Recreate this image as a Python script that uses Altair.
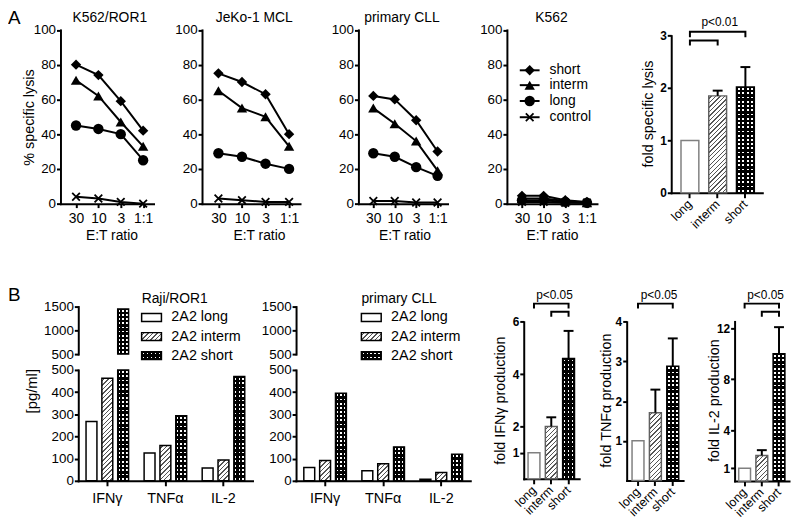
import math
import altair as alt
import pandas as pd

# ============================== data ==============================
et_ratios = ["30", "10", "3", "1:1"]
lysis_series = ["short", "interm", "long", "control"]

k562ror1_short = [80, 74, 59, 42]
k562ror1_interm = [71, 62, 47, 33]
k562ror1_long = [45, 43, 40, 25]
k562ror1_control = [4, 3, 1, 0]

jeko_short = [75, 70, 63, 40]
jeko_interm = [65, 55, 50, 33]
jeko_long = [29, 27, 23, 20]
jeko_control = [3, 2, 1, 1]

cll_short = [62, 60, 48, 30]
cll_interm = [55, 46, 36, 19]
cll_long = [29, 27, 21, 16]
cll_control = [1.5, 1.5, 0.7, 0.7]

k562_short = [4.5, 4.5, 2, 1]
k562_interm = [3, 3, 1.5, 0.5]
k562_long = [2, 2, 1, 0.5]
k562_control = [1, 1, 0.5, 0.5]

constructs = ["long", "interm", "short"]
lysis_fold = [1.0, 1.85, 2.02]
lysis_fold_sd = [0.0, 0.10, 0.38]

cytokines = ["IFNγ", "TNFα", "IL-2"]
variants = ["2A2 long", "2A2 interm", "2A2 short"]
raji_long = [268, 125, 58]
raji_interm = [463, 159, 94]
raji_short = [1450, 294, 470]
pcll_long = [60, 45, 7]
pcll_interm = [92, 77, 37]
pcll_short = [395, 153, 120]

ifng_fold = [1.0, 2.0, 4.6]
ifng_sd = [0.0, 0.35, 1.05]
tnf_fold = [1.0, 1.71, 2.88]
tnf_sd = [0.0, 0.58, 0.70]
il2_fold = [1.0, 2.0, 10.0]
il2_sd = [0.0, 0.42, 2.1]

# ============================== helpers ==============================
OFF = 8
W, H = 792, 517
FONT = "Liberation Sans"
CLEAR = "rgba(0,0,0,0)"
ONE = pd.DataFrame({"k": [0]})
XPATH = "M-1,-1L1,1M-1,1L1,-1"
FOLD_STROKE = {"long": "#808080", "interm": "#606060", "short": "black"}


def P(v):
    return round(v - OFF, 2)


def r4(v):
    return round(min(max(v, 0.0), 1.0), 4)


def hatch(w, h, period=3.2, lw=1.0, color="#555555"):
    a = w / h
    s = (a + 1) / (a * a + 1)
    L = (w + h) / math.sqrt(2)
    stops = [{"offset": 0, "color": "white"}]
    t = period / 2
    while t < L:
        o1, o2 = r4(t / L), r4((t + lw) / L)
        stops += [{"offset": o1, "color": "white"}, {"offset": o1, "color": color},
                  {"offset": o2, "color": color}, {"offset": o2, "color": "white"}]
        t += period
    stops.append({"offset": 1, "color": "white"})
    return {"gradient": "linear", "x1": 0, "y1": 0, "x2": round(s * a, 4), "y2": round(s, 4), "stops": stops}


def stripes(length, across, period=4.3, white=0.42):
    n = max(1, round(length / period))
    stops = []
    for k in range(n):
        a = k / n
        b = (k + (1 - white) / 2) / n
        c = (k + (1 + white) / 2) / n
        d = (k + 1) / n
        stops += [{"offset": r4(a), "color": "black"}, {"offset": r4(b), "color": "black"},
                  {"offset": r4(b), "color": CLEAR}, {"offset": r4(c), "color": CLEAR},
                  {"offset": r4(c), "color": "black"}, {"offset": r4(d), "color": "black"}]
    return {"gradient": "linear", "x1": 0, "y1": 0,
            "x2": 1 if across else 0, "y2": 0 if across else 1, "stops": stops}


def bar_styles(kind, w, h, stroke, sw):
    if kind == "long":
        return [dict(fill="white", stroke=stroke, strokeWidth=sw)]
    if kind == "interm":
        return [dict(fill=hatch(w, h), stroke=stroke, strokeWidth=sw)]
    return [dict(fill="white"), dict(fill=stripes(w, True)),
            dict(fill=stripes(h, False), stroke=stroke, strokeWidth=sw)]


def bar_layers(chart, bar_id, kind, w, h, enc, stroke, sw=1.5):
    b = chart.transform_filter(alt.datum.id == bar_id)
    return [b.mark_bar(**st).encode(**enc) for st in bar_styles(kind, w, max(h, 1), stroke, sw)]


def rect_layers(kind, x0, x1, y0, y1, stroke="black", sw=1.5):
    enc = dict(x=alt.value(P(x0)), x2=alt.value(P(x1)), y=alt.value(P(y0)), y2=alt.value(P(y1)))
    return [alt.Chart(ONE).mark_rect(**st).encode(**enc)
            for st in bar_styles(kind, x1 - x0, y1 - y0, stroke, sw)]


def txt(s, x, y, size=14, align="center", baseline="alphabetic", angle=None, weight="normal"):
    kw = dict(text=s, font=FONT, fontSize=size, align=align, baseline=baseline,
              color="black", fontWeight=weight)
    if angle is not None:
        kw["angle"] = angle
    return alt.Chart(ONE).mark_text(**kw).encode(x=alt.value(P(x)), y=alt.value(P(y)))


# ----------------------------- panel A: lysis curves
def lysis_panel(series_vals, x0, x1, title, title_cx, et_cx, legend=False):
    rows = []
    for s, arr in zip(lysis_series, series_vals):
        for i, (e, v) in enumerate(zip(et_ratios, arr)):
            rows.append({"et": e, "series": s, "v": v, "o": i})
    df = pd.DataFrame(rows)
    X = alt.X("et:N",
              scale=alt.Scale(type="point", domain=et_ratios, range=[P(x0), P(x1)], padding=0.58, align=0.6),
              axis=alt.Axis(orient="bottom", offset=P(203) - H, title=None, labelAngle=0,
                            labelFontSize=14, labelPadding=4))
    Y = alt.Y("v:Q", scale=alt.Scale(domain=[0, 100], range=[P(203), P(27.5)], nice=False),
              axis=alt.Axis(orient="left", offset=-P(x0), values=[0, 20, 40, 60, 80, 100],
                            title=None, labelPadding=1))
    shp = alt.Shape("series:N", scale=alt.Scale(domain=["short", "interm", "long"],
                                                 range=["diamond", "triangle-up", "circle"]), legend=None)
    base = alt.Chart(df)
    layers = [
        base.mark_line(color="black", strokeWidth=2).encode(x=X, y=Y, detail="series:N", order="o:Q"),
        base.transform_filter("datum.series != 'control'").mark_point(
            filled=True, color="black", size=110, opacity=1).encode(x=X, y=Y, shape=shp),
        base.transform_filter("datum.series == 'control'").mark_point(
            shape=XPATH, color="black", strokeWidth=1.8, size=60, opacity=1).encode(x=X, y=Y),
        txt(title, title_cx, 19),
        txt("E:T ratio", et_cx, 239.5),
    ]
    if legend:
        entries = [("short", "diamond", 68.3), ("interm", "triangle-up", 83.3),
                   ("long", "circle", 99.3), ("control", XPATH, 115.7)]
        for lab, sh, yy in entries:
            layers.append(alt.Chart(ONE).mark_rule(color="black", strokeWidth=2).encode(
                x=alt.value(P(525)), x2=alt.value(P(545)), y=alt.value(P(yy))))
            if sh == XPATH:
                pt = alt.Chart(ONE).mark_point(shape=sh, color="black", strokeWidth=1.8, size=60, opacity=1)
            else:
                pt = alt.Chart(ONE).mark_point(shape=sh, filled=True, color="black", size=110, opacity=1)
            layers.append(pt.encode(x=alt.value(P(535)), y=alt.value(P(yy))))
            layers.append(txt(lab, 555, yy, size=14, align="left", baseline="middle"))
    return alt.layer(*layers)


# ----------------------------- fold-change bar panels
def fold_panel(vals, sd, x0, x1, y0, ytop, dmax, ticks, pad_in, pad_out, align,
               ylab, ylab_xy, brackets, ptxt):
    ppu = (y0 - ytop) / dmax

    def du(py):
        return round((y0 - py) / ppu, 4)

    step = (x1 - x0) / (3 - pad_in + 2 * pad_out)
    bw = step * (1 - pad_in)
    df = pd.DataFrame({"id": constructs, "c": constructs, "v": vals, "sd": sd,
                       "up": [v + s for v, s in zip(vals, sd)]})
    xs = alt.Scale(type="band", domain=constructs, range=[P(x0), P(x1)],
                   paddingInner=pad_in, paddingOuter=pad_out, align=align)
    xax = alt.Axis(orient="bottom", offset=P(y0) - H, title=None, labelAngle=-45, labelAlign="right",
                   labelBaseline="middle", labelFontSize=12.5, tickSize=5, labelPadding=4)
    ys = alt.Scale(domain=[0, dmax], range=[P(y0), P(ytop)], nice=False)
    yax = alt.Axis(orient="left", offset=-P(x0), values=ticks, title=None, labelFontWeight="bold",
                   labelFontSize=12, labelPadding=1)
    X = alt.X("c:N", scale=xs, axis=xax)

    def Yf(f):
        return alt.Y(f, scale=ys, axis=yax)

    base = alt.Chart(df)
    layers = []
    for c, v in zip(constructs, vals):
        layers += bar_layers(base, c, c, bw, v * ppu, dict(x=X, y=Yf("v:Q")), FOLD_STROKE[c])
    eb = base.transform_filter("datum.sd > 0")
    layers.append(eb.mark_rule(color="black", strokeWidth=2).encode(x=X, y=Yf("v:Q"), y2=alt.Y2("up:Q")))
    layers.append(eb.mark_tick(color="black", thickness=2, size=10, orient="horizontal", opacity=1).encode(
        x=X, y=Yf("up:Q")))
    br_rows = []
    for i, (a, b, ytp, yend) in enumerate(brackets):
        for j, (c, py) in enumerate([(a, yend), (a, ytp), (b, ytp), (b, yend)]):
            br_rows.append({"c": c, "yv": du(py), "br": i, "o": j})
    layers.append(alt.Chart(pd.DataFrame(br_rows)).mark_line(
        color="black", strokeWidth=2, strokeJoin="miter", strokeCap="butt").encode(
        x=X, y=Yf("yv:Q"), detail="br:N", order="o:Q"))
    layers.append(txt(ptxt[2], ptxt[0], ptxt[1], size=12, baseline="middle"))
    layers.append(txt(ylab, ylab_xy[0], ylab_xy[1], size=14.5, angle=270, baseline="middle"))
    return alt.layer(*layers)


# ----------------------------- cytokine panels with broken axis
def cyto_panel(long_, interm, short, x0, x1):
    rows = []
    for ci, c in enumerate(cytokines):
        for kind, vname, arr in zip(constructs, variants, [long_, interm, short]):
            v = arr[ci]
            rows.append({"id": f"{ci}-{kind}", "kind": kind, "cyto": c, "variant": vname, "v": v,
                         "lo_v": min(v, 500), "up_lo": 500, "up_hi": max(v, 500)})
    df = pd.DataFrame(rows)
    xs = alt.Scale(type="band", domain=cytokines, range=[P(x0), P(x1)], paddingInner=0, paddingOuter=0)
    xax = alt.Axis(orient="bottom", offset=P(483) - H, title=None, labelAngle=0,
                   labelFontSize=14.5, labelPadding=6, tickSize=5)
    XO = alt.XOffset("variant:N", scale=alt.Scale(domain=variants, paddingInner=0.3125, paddingOuter=0.49))
    X = alt.X("cyto:N", scale=xs, axis=xax)
    YL = alt.Y("lo_v:Q", scale=alt.Scale(domain=[0, 500], range=[P(483), P(371)], nice=False),
               axis=alt.Axis(orient="left", offset=-P(x0), values=[0, 100, 200, 300, 400, 500],
                             title=None, labelPadding=1, format="d"))
    YU = alt.Y("up_hi:Q", scale=alt.Scale(domain=[500, 1500], range=[P(355), P(307)], nice=False, zero=False),
               axis=alt.Axis(orient="left", offset=-P(x0), values=[500, 1000, 1500], title=None,
                             labelPadding=1, format="d"))
    bw = 11.0
    base = alt.Chart(df)
    lower, upper = [], []
    upper.append(base.transform_filter("datum.v > 500").mark_bar(opacity=0).encode(
        x=X, xOffset=XO, y=YU, y2=alt.Y2("up_lo:Q")))
    for r in rows:
        lower += bar_layers(base, r["id"], r["kind"], bw, r["lo_v"] * 112 / 500,
                            dict(x=X, xOffset=XO, y=YL), "black")
        if r["v"] > 500:
            upper += bar_layers(base, r["id"], r["kind"], bw, (r["v"] - 500) * 48 / 1000,
                                dict(x=X, xOffset=XO, y=YU, y2=alt.Y2("up_lo:Q")), "black")
    return alt.layer(alt.layer(*lower), alt.layer(*upper)).resolve_scale(y="independent")


def cyto_legend(title, x0, text_x):
    out = [txt(title, x0, 303.5, size=14, align="left")]
    for kind, vname, cy in zip(constructs, variants, [318, 337.3, 356.5]):
        out += rect_layers(kind, x0, x0 + 20, cy - 4, cy + 4)
        out.append(txt(vname, text_x, cy, size=14.5, align="left", baseline="middle"))
    return out


# ============================== assemble ==============================
layers = []
layers.append(lysis_panel([k562ror1_short, k562ror1_interm, k562ror1_long, k562ror1_control],
                          61, 155, "K562/ROR1", 110.8, 113))
layers.append(lysis_panel([jeko_short, jeko_interm, jeko_long, jeko_control],
                          204, 303, "JeKo-1 MCL", 256.7, 262))
layers.append(lysis_panel([cll_short, cll_interm, cll_long, cll_control],
                          362, 452, "primary CLL", 406, 409))
layers.append(lysis_panel([k562_short, k562_interm, k562_long, k562_control],
                          512, 603, "K562", 557, 558, legend=True))
layers.append(fold_panel(lysis_fold, lysis_fold_sd, 678, 770, 192, 33.3, 3, [0, 1, 2, 3],
                         0.357, 0.32, 0.55, "fold specific lysis", (656, 112.5),
                         [("long", "short", 29.3, 35), ("long", "interm", 38.3, 43.3)],
                         (727, 20, "p<0.01")))
layers.append(txt("A", 8, 21.7, size=19, align="left"))
layers.append(txt("% specific lysis", 30, 116, size=14.5, angle=270, baseline="middle"))

layers.append(cyto_panel(raji_long, raji_interm, raji_short, 79, 255))
layers.append(cyto_panel(pcll_long, pcll_interm, pcll_short, 299, 475))
layers += cyto_legend("Raji/ROR1", 143, 173)
layers += cyto_legend("primary CLL", 365, 395)
layers.append(txt("B", 8, 301.7, size=19, align="left"))
layers.append(txt("[pg/ml]", 32.5, 392.5, size=15, angle=270, baseline="middle"))

layers.append(fold_panel(ifng_fold, ifng_sd, 529, 585, 481, 322.3, 6, [1, 2, 4, 6],
                         0.314, 0.26, 0.48, "fold IFNγ production", (506, 402),
                         [("long", "short", 304, 309), ("interm", "short", 312.3, 317.3)],
                         (560, 295.5, "p<0.05")))
layers.append(fold_panel(tnf_fold, tnf_sd, 633, 690, 482.7, 322.3, 4, [1, 2, 3, 4],
                         0.314, 0.28, 0.55, "fold TNFα production", (613, 402),
                         [("long", "short", 304, 309)],
                         (665.7, 295.5, "p<0.05")))
layers.append(fold_panel(il2_fold, il2_sd, 742, 797, 483.1, 322, 12.55, [1, 4, 8, 12],
                         0.314, 0.24, 0.5, "fold IL-2 production", (722.5, 402),
                         [("long", "short", 304, 309), ("interm", "short", 312.3, 317.3)],
                         (773.3, 295.5, "p<0.05")))

chart = (
    alt.layer(*layers)
    .resolve_scale(x="independent", y="independent", xOffset="independent")
    .properties(width=W, height=H, padding=0, autosize=alt.AutoSizeParams(type="none"))
    .configure_view(stroke=None)
    .configure_axis(domainColor="black", domainWidth=2, domainCap="square", tickColor="black",
                    tickWidth=2, tickSize=4, labelColor="black", labelFont=FONT, labelFontSize=13.5,
                    grid=False)
)

chart.save("out.html", embed_options={"renderer": "svg", "actions": False})
